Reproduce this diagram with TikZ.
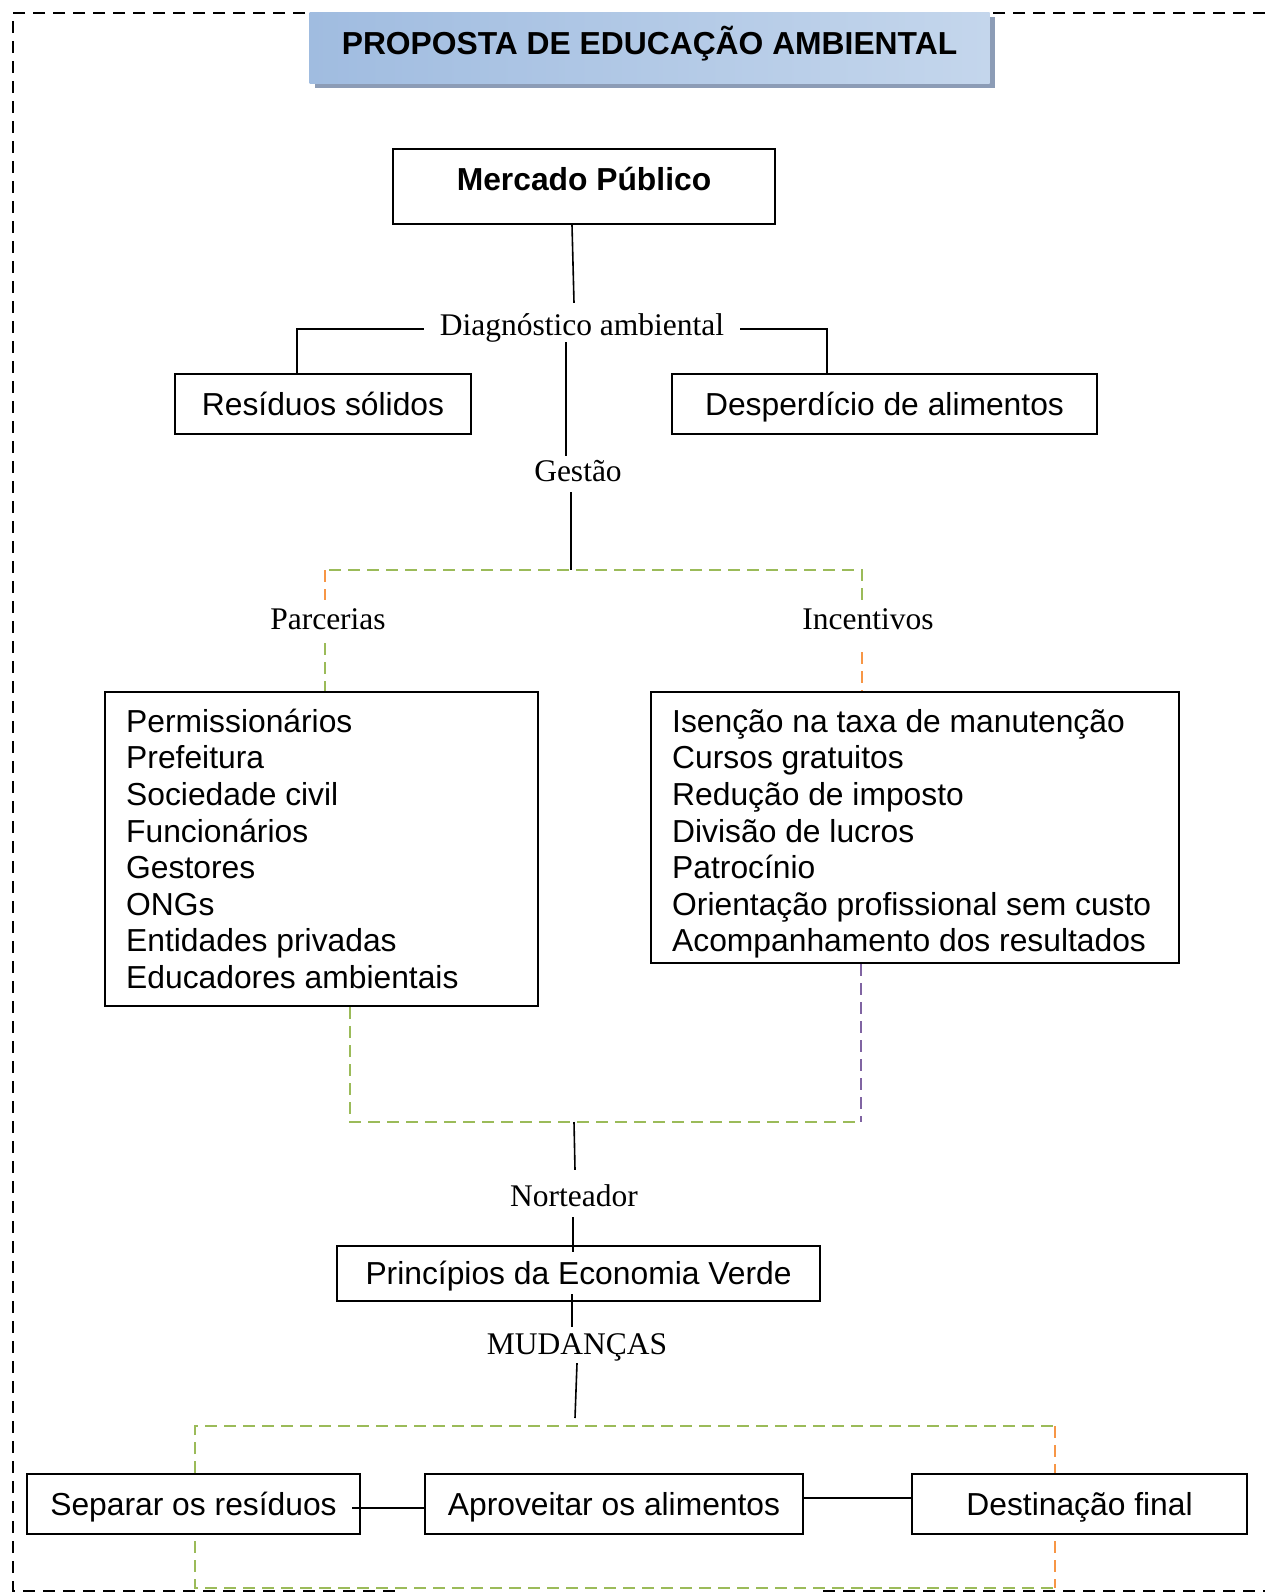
\documentclass[tikz,border=0pt]{standalone}
\usepackage{fontspec}
\setmainfont{Liberation Serif}
\setsansfont{Liberation Sans}
\usetikzlibrary{calc,shadows}

\definecolor{ggreen}{RGB}{155,187,89}
\definecolor{gorange}{RGB}{247,150,70}
\definecolor{gpurple}{RGB}{128,100,162}
\definecolor{titleleft}{RGB}{160,188,224}
\definecolor{titlemid}{RGB}{214,226,242}
\definecolor{titleright}{RGB}{196,214,236}
\definecolor{shadowblue}{RGB}{140,156,182}

\begin{document}
\begin{tikzpicture}[x=1pt,y=-1pt,
  every node/.style={inner sep=0pt},
  boxtext/.style={font=\sffamily\fontsize{31.8}{36.6}\selectfont},
  sbox/.style={draw, line width=2pt, boxtext, text height=23pt, text depth=1pt},
  listbox/.style={draw, line width=2pt},
  lab/.style={font=\rmfamily\fontsize{31.5}{36.5}\selectfont, text height=21pt, text depth=0pt},
  link/.style={line width=1.6pt},
  outerframe/.style={line width=2pt, dash pattern=on 12pt off 8pt},
  gline/.style={draw=ggreen, line width=2.5pt, dash pattern=on 12pt off 7pt},
  oline/.style={draw=gorange, line width=2.5pt, dash pattern=on 12pt off 7pt},
  pline/.style={draw=gpurple, line width=2.5pt, dash pattern=on 12pt off 7pt}
]
\fill[white] (0,0) rectangle (1265,1593);
\useasboundingbox (0,0) rectangle (1265,1593);

% outer dashed frame
\draw[outerframe] (1265,13) -- (13,13) -- (13,1591) -- (395,1591);
\draw[outerframe] (823,1591) -- (1265,1591);

% title banner
\node[font=\sffamily\bfseries\fontsize{31.8}{36.6}\selectfont,
      minimum width=680pt, minimum height=71pt, text height=23pt, text depth=9.5pt,
      left color=titleleft, middle color=titlemid, right color=titleright,
      drop shadow={shadow xshift=5pt, shadow yshift=-5pt, fill=shadowblue, opacity=1}]
  (title) at (649.5,47.5) {PROPOSTA DE EDUCAÇÃO AMBIENTAL};

% top of the tree
\node[sbox, minimum width=382pt, minimum height=75pt, text height=23pt, text depth=15.5pt,
      font=\sffamily\bfseries\fontsize{31.8}{36.6}\selectfont]
  (mercado) at (584,186.5) {Mercado Público};
\node[lab] (diag) at (582,325) {Diagnóstico ambiental};
\node[sbox, minimum width=296pt, minimum height=60pt] (resid) at (323,404) {Resíduos sólidos};
\node[sbox, minimum width=425pt, minimum height=60pt] (desp) at (884.5,404) {Desperdício de alimentos};
\node[lab] (gestao) at (578,471) {Gestão};

\draw[link] ($(mercado.south)+(-12,0)$) -- ($(diag.north)+(-8,-11.5)$);
\draw[link] ($(diag.west)+(-16,4)$) -| ($(resid.north)+(-26,0)$);
\draw[link] ($(diag.east)+(16,4)$) -| ($(desp.north)+(-57.5,0)$);
\draw[link] ($(diag.south)+(-16,6.5)$) -- ($(gestao.north)+(-12,-4.5)$);

% partners and incentives
\node[lab] (lparc) at (328,619) {Parcerias};
\node[lab] (lincent) at (868,619) {Incentivos};
\node[listbox, minimum width=433pt, minimum height=314pt] (partners) at (321.5,849) {};
\node[listbox, minimum width=528pt, minimum height=271pt] (incent) at (915,827.5) {};

\node[boxtext, align=left, anchor=north west] (partnerlist) at (126,706.4)
  {\strut Permissionários\\Prefeitura\\Sociedade civil\\Funcionários\\Gestores\\ONGs\\Entidades privadas\\Educadores ambientais};
\begin{scope}
  \clip (incent.north west) rectangle ($(incent.south east)+(0,-6)$);
  \node[boxtext, align=left, anchor=north west] (incentlist) at (672,706.4)
    {\strut Isenção na taxa de manutenção\\Cursos gratuitos\\Redução de imposto\\Divisão de lucros\\Patrocínio\\Orientação profissional sem custo\\Acompanhamento dos resultados};
\end{scope}

\coordinate (bL) at (325,570);
\coordinate (bR) at (862,570);
\coordinate (bM) at (571,570);
\draw[link] ($(gestao.south)+(-7,10.5)$) -- (bM);
\draw[gline] ($(lincent.north)+(-6,-8.5)$) -- (bR) -- (bL);
\draw[oline] (bL) -- ($(lparc.north)+(-3,-8.5)$);
\draw[gline] ($(lparc.south)+(-3,13.5)$) -- (bL |- partners.north);
\draw[oline] ($(lincent.south)+(-6,22.5)$) -- (bR |- incent.north);

\coordinate (cL) at (350,1122);
\coordinate (cR) at (861,1122);
\coordinate (cM) at (574,1122);
\draw[gline] (cL |- partners.south) -- (cL) -- (cR);
\draw[pline] (cR |- incent.south) -- (cR);

% guiding principle
\node[lab] (lnort) at (574,1196) {Norteador};
\node[sbox, minimum width=483pt, minimum height=55pt] (princ) at (578.5,1273.5) {Princípios da Economia Verde};
\node[lab] (lmud) at (577,1343.5) {MUDANÇAS};

\draw[link] (cM) -- ($(lnort.north)+(1,-15.5)$);
\draw[link] ($(lnort.south)+(-1,10.5)$) -- ($(princ.north)+(-5.5,7)$);
\draw[link] ($(princ.south)+(-6.5,-8)$) -- ($(lmud.north)+(-5,-6)$);

% changes
\node[sbox, minimum width=333pt, minimum height=60pt] (sep) at (193.5,1504) {Separar os resíduos};
\node[sbox, minimum width=378pt, minimum height=60pt] (aprov) at (614,1504) {Aproveitar os alimentos};
\node[sbox, minimum width=335pt, minimum height=60pt] (dest) at (1079.5,1504) {Destinação final};

\coordinate (dL) at (195,1426);
\coordinate (dR) at (1055,1426);
\coordinate (dM) at (575,1426);
\coordinate (dBL) at (195,1588);
\coordinate (dBR) at (1055,1588);
\draw[link] ($(lmud.south)+(0,9)$) -- ($(dM)+(0,-8)$);
\draw[gline] (dL |- sep.north) -- (dL) -- (dR);
\draw[oline] (dR) -- (dR |- dest.north);
\draw[gline] ($(dL |- sep.south)+(0,6)$) -- (dBL) -- (dBR);
\draw[oline] ($(dR |- dest.south)+(0,6)$) -- (dBR);

\draw[link] ($(sep.east)+(-9,4)$) -- ($(aprov.west)+(0,4)$);
\draw[link] ($(aprov.east)+(0,-6)$) -- ($(dest.west)+(0,-6)$);
\end{tikzpicture}
\end{document}
